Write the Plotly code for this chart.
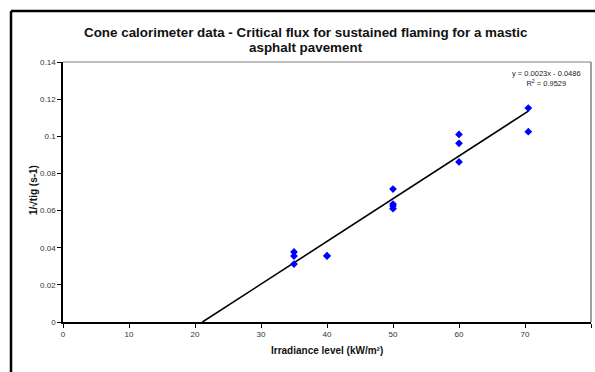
import plotly.graph_objects as go

# Cone calorimeter measurements: irradiance (kW/m²) vs 1/sqrt(t_ig)
irradiance = [35, 35, 35, 40, 40, 50, 50, 50, 50, 60, 60, 60, 70.5, 70.5]
inv_sqrt_tig = [0.0377, 0.0355, 0.0312, 0.0357, 0.0355,
                0.0716, 0.0635, 0.0625, 0.0610,
                0.1010, 0.0962, 0.0862,
                0.1152, 0.1025]

# Linear trend line coefficients
slope = 0.0023
intercept = -0.0486
r_squared = 0.9529

x_ticks = [0, 10, 20, 30, 40, 50, 60, 70, 80]
y_ticks = [0, 0.02, 0.04, 0.06, 0.08, 0.1, 0.12, 0.14]
y_tick_text = ["0", "0.02", "0.04", "0.06", "0.08", "0.1", "0.12", "0.14"]

title_lines = ["Cone calorimeter data - Critical flux for sustained flaming for a mastic",
               "asphalt pavement"]

x_start = -intercept / slope
x_end = max(irradiance)
trend_x = [x_start, x_end]
trend_y = [slope * v + intercept for v in trend_x]

FONT = "Liberation Sans, Arial, sans-serif"

fig = go.Figure()
fig.add_trace(go.Scatter(
    x=trend_x, y=trend_y, mode="lines",
    line=dict(color="black", width=1.6),
    hoverinfo="skip", showlegend=False,
))
fig.add_trace(go.Scatter(
    x=irradiance, y=inv_sqrt_tig, mode="markers",
    marker=dict(symbol="diamond", color="#0000FF", size=6,
                line=dict(width=0)),
    showlegend=False,
))

W, H = 595, 372
L, R, T, B = 63, 4, 62, 50
pw, ph = W - L - R, H - T - B


def px_x(px):
    return (px - L) / pw


def px_y(py):
    return (H - B - py) / ph


annotations = [
    dict(text=f"<b>{line}</b>", xref="paper", yref="paper",
         x=px_x(306), y=px_y(py), xanchor="center", yanchor="middle",
         showarrow=False, font=dict(size=13.4, color="#111111", family=FONT))
    for line, py in zip(title_lines, [33, 48])
]
annotations += [
    dict(text=f"y = {slope}x - {abs(intercept)}<br>R<sup>2</sup> = {r_squared}",
         xref="paper", yref="paper", x=px_x(546), y=px_y(78),
         xanchor="center", yanchor="middle", showarrow=False, align="center",
         font=dict(size=7.5, color="#222222", family=FONT)),
    dict(text="<b>Irradiance level (kW/m²)</b>",
         xref="paper", yref="paper", x=0.5, y=px_y(350),
         xanchor="center", yanchor="middle", showarrow=False,
         font=dict(size=10, color="#111111", family=FONT)),
    dict(text="<b>1/√tig (s-1)</b>",
         xref="paper", yref="paper", x=px_x(33), y=px_y(190),
         xanchor="center", yanchor="middle", showarrow=False, textangle=-90,
         font=dict(size=10, color="#111111", family=FONT)),
]

fig.update_layout(
    width=W, height=H,
    margin=dict(l=L, r=R, t=T, b=B),
    paper_bgcolor="white", plot_bgcolor="white",
    font=dict(family=FONT, color="#222222"),
    xaxis=dict(
        range=[0, 80], tickvals=x_ticks, ticktext=[str(v) for v in x_ticks],
        showgrid=False, zeroline=False,
        showline=True, linecolor="black", linewidth=1.5,
        ticks="outside", ticklen=4, tickcolor="black", tickwidth=1,
        tickfont=dict(size=8, color="#333333", family=FONT),
    ),
    yaxis=dict(
        range=[0, 0.14], tickvals=y_ticks, ticktext=y_tick_text,
        showgrid=False, zeroline=False,
        showline=True, linecolor="black", linewidth=1.5,
        ticks="outside", ticklen=4, tickcolor="black", tickwidth=1,
        tickfont=dict(size=8, color="#333333", family=FONT),
    ),
    shapes=[
        # top and right edges of the plot area
        dict(type="line", xref="paper", yref="paper", x0=0, x1=1, y0=1, y1=1,
             line=dict(color="#808080", width=1.2)),
        dict(type="line", xref="paper", yref="paper", x0=1, x1=1, y0=0, y1=1,
             line=dict(color="#808080", width=1.5)),
        # outer chart frame (left and top edges; it runs past the page)
        dict(type="line", xref="paper", yref="paper",
             x0=px_x(11), x1=px_x(11), y0=px_y(11), y1=px_y(400),
             line=dict(color="black", width=2.5)),
        dict(type="line", xref="paper", yref="paper",
             x0=px_x(11), x1=px_x(640), y0=px_y(11), y1=px_y(11),
             line=dict(color="black", width=2.5)),
    ],
    annotations=annotations,
)

fig.write_html("out.html")
